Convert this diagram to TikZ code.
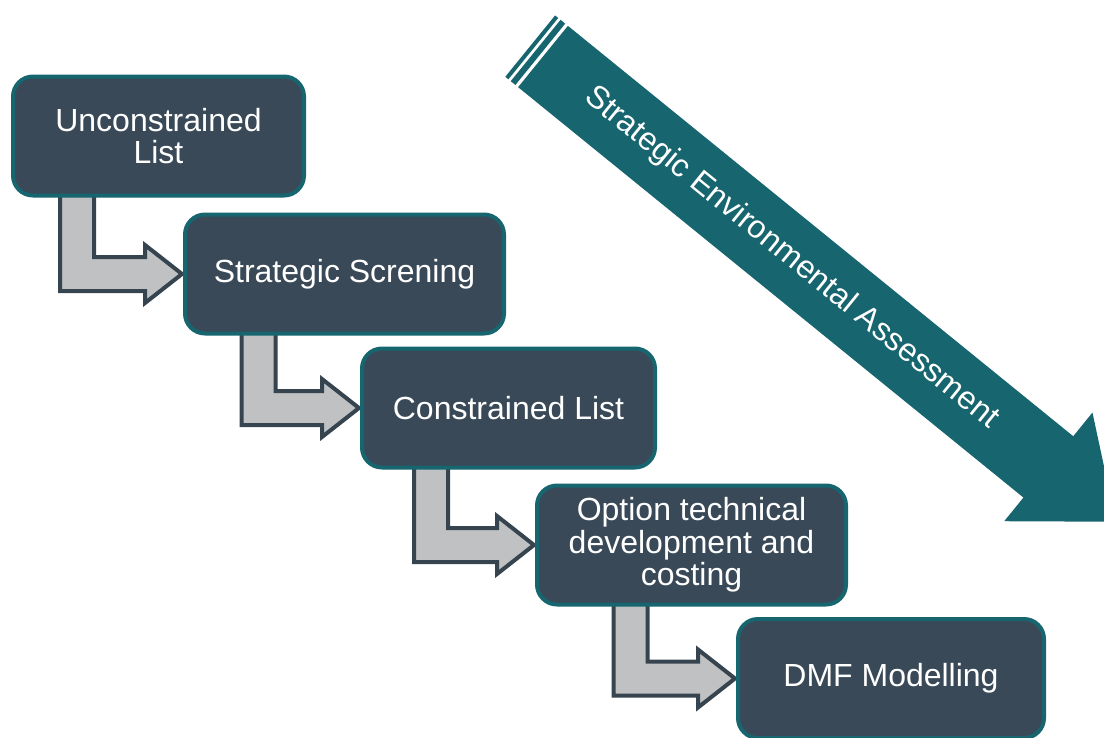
\documentclass[tikz,border=0pt]{standalone}
\usepackage{fontspec}
\setmainfont{Liberation Sans}
\usetikzlibrary{calc,backgrounds}
\definecolor{seateal}{HTML}{17656E}
\definecolor{slate}{HTML}{394957}
\definecolor{stepgray}{HTML}{C0C1C3}
\definecolor{stepline}{HTML}{36444F}

\begin{document}
\begin{tikzpicture}[x=1pt, y=-1pt,
		box/.style={draw=seateal, line width=4pt, fill=slate, rounded corners=20pt, text=white, align=center, minimum height=119pt, font=\fontsize{32}{32.5}\selectfont},
		elbow/.style={draw=stepline, line width=4pt, fill=stepgray}]
		\useasboundingbox (0,0) rectangle (1104,737);
		\clip (0,0) rectangle (1104,737);
		\node[box, minimum width=291pt] (U) at (158.5,136) {Unconstrained\\List};
		\node[box, minimum width=319pt] (S) at (344.5,274) {Strategic Screning};
		\node[box, minimum width=293pt] (C) at (508.5,408) {Constrained List};
		\node[box, minimum width=309pt] (O) at (691.5,545) {Option technical\\development and\\costing};
		\node[box, minimum width=306pt] (D) at (891,678.5) {DMF Modelling};
		\begin{scope}[on background layer]
		\foreach \a/\b/\d in {U/S/66, S/C/75.5, C/O/71, O/D/95.5}{
			\coordinate (top) at ($(\a.south west)+(\d,0)$);
			\coordinate (tip) at ($(\b.west)+(-1,0)$);
			\coordinate (knee) at (top |- tip);
			\draw[elbow] ($(top)+(-17,-5)$) -- ($(knee)+(-17,17)$) -- ($(tip)+(-37,17)$) -- ($(tip)+(-37,29)$) -- (tip) -- ($(tip)+(-37,-29)$) -- ($(tip)+(-37,-17)$) -- ($(knee)+(17,-17)$) -- ($(top)+(17,-5)$) -- cycle;
		}
		\end{scope}
		\begin{scope}[shift={(543,56.5)}, rotate=-39.08]
		\fill[seateal] (0,-39.5) -- (651,-39.5) -- (651,-70) -- (738,0) -- (651,70) -- (651,39.5) -- (0,39.5) -- cycle;
		\fill[seateal] (-9.5,-39.5) rectangle (-3.5,39.5);
		\fill[seateal] (-16.5,-39.5) rectangle (-12.5,39.5);
		\node[rotate=-39.08, text=white, font=\fontsize{32}{34}\selectfont] (SEA) at (320,0) {Strategic Environmental Assessment};
		\end{scope}
\end{tikzpicture}
\end{document}
